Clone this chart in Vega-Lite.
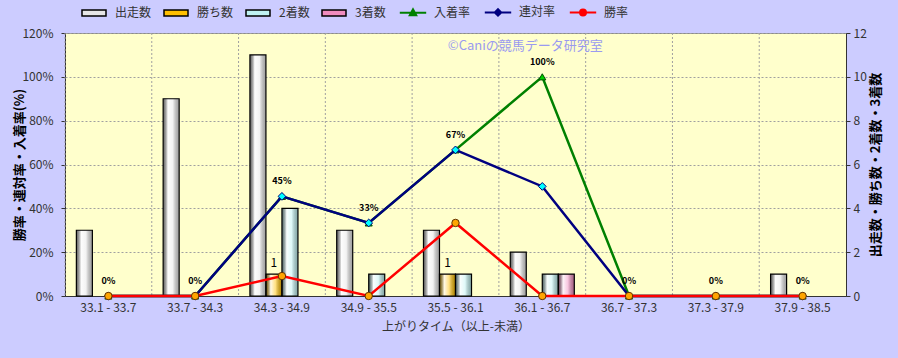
{
  "$schema": "https://vega.github.io/schema/vega-lite/v6.json",
  "width": 781,
  "height": 263,
  "autosize": {"type": "none"},
  "padding": {"left": 65, "top": 33, "right": 52, "bottom": 62},
  "background": "#ccccff",
  "config": {
    "view": {"fill": "#ffffcc", "stroke": "#8a8a8a", "strokeWidth": 1},
    "font": "Noto Sans CJK JP",
    "axis": {"labelFont": "Noto Sans CJK JP", "labelFontSize": 12, "labelColor": "#333333", "titleFont": "Noto Sans CJK JP", "titleColor": "#000000", "domainColor": "#333333", "tickColor": "#333333"},
    "legend": {"labelFont": "Noto Sans CJK JP", "labelFontSize": 12, "labelColor": "#333333"}
  },
  "datasets": {
    "counts": [
      {"区間": "33.1 - 33.7", "系列": "出走数", "値": 3},
      {"区間": "33.1 - 33.7", "系列": "勝ち数", "値": 0},
      {"区間": "33.1 - 33.7", "系列": "2着数", "値": 0},
      {"区間": "33.1 - 33.7", "系列": "3着数", "値": 0},
      {"区間": "33.7 - 34.3", "系列": "出走数", "値": 9},
      {"区間": "33.7 - 34.3", "系列": "勝ち数", "値": 0},
      {"区間": "33.7 - 34.3", "系列": "2着数", "値": 0},
      {"区間": "33.7 - 34.3", "系列": "3着数", "値": 0},
      {"区間": "34.3 - 34.9", "系列": "出走数", "値": 11},
      {"区間": "34.3 - 34.9", "系列": "勝ち数", "値": 1},
      {"区間": "34.3 - 34.9", "系列": "2着数", "値": 4},
      {"区間": "34.3 - 34.9", "系列": "3着数", "値": 0},
      {"区間": "34.9 - 35.5", "系列": "出走数", "値": 3},
      {"区間": "34.9 - 35.5", "系列": "勝ち数", "値": 0},
      {"区間": "34.9 - 35.5", "系列": "2着数", "値": 1},
      {"区間": "34.9 - 35.5", "系列": "3着数", "値": 0},
      {"区間": "35.5 - 36.1", "系列": "出走数", "値": 3},
      {"区間": "35.5 - 36.1", "系列": "勝ち数", "値": 1},
      {"区間": "35.5 - 36.1", "系列": "2着数", "値": 1},
      {"区間": "35.5 - 36.1", "系列": "3着数", "値": 0},
      {"区間": "36.1 - 36.7", "系列": "出走数", "値": 2},
      {"区間": "36.1 - 36.7", "系列": "勝ち数", "値": 0},
      {"区間": "36.1 - 36.7", "系列": "2着数", "値": 1},
      {"区間": "36.1 - 36.7", "系列": "3着数", "値": 1},
      {"区間": "36.7 - 37.3", "系列": "出走数", "値": 0},
      {"区間": "36.7 - 37.3", "系列": "勝ち数", "値": 0},
      {"区間": "36.7 - 37.3", "系列": "2着数", "値": 0},
      {"区間": "36.7 - 37.3", "系列": "3着数", "値": 0},
      {"区間": "37.3 - 37.9", "系列": "出走数", "値": 0},
      {"区間": "37.3 - 37.9", "系列": "勝ち数", "値": 0},
      {"区間": "37.3 - 37.9", "系列": "2着数", "値": 0},
      {"区間": "37.3 - 37.9", "系列": "3着数", "値": 0},
      {"区間": "37.9 - 38.5", "系列": "出走数", "値": 1},
      {"区間": "37.9 - 38.5", "系列": "勝ち数", "値": 0},
      {"区間": "37.9 - 38.5", "系列": "2着数", "値": 0},
      {"区間": "37.9 - 38.5", "系列": "3着数", "値": 0}
    ],
    "rates": [
      {"区間": "33.1 - 33.7", "系列": "入着率", "値": 0},
      {"区間": "33.7 - 34.3", "系列": "入着率", "値": 0},
      {"区間": "34.3 - 34.9", "系列": "入着率", "値": 0.4545},
      {"区間": "34.9 - 35.5", "系列": "入着率", "値": 0.3333},
      {"区間": "35.5 - 36.1", "系列": "入着率", "値": 0.6667},
      {"区間": "36.1 - 36.7", "系列": "入着率", "値": 1.0},
      {"区間": "36.7 - 37.3", "系列": "入着率", "値": 0},
      {"区間": "37.3 - 37.9", "系列": "入着率", "値": 0},
      {"区間": "37.9 - 38.5", "系列": "入着率", "値": 0},
      {"区間": "33.1 - 33.7", "系列": "連対率", "値": 0},
      {"区間": "33.7 - 34.3", "系列": "連対率", "値": 0},
      {"区間": "34.3 - 34.9", "系列": "連対率", "値": 0.4545},
      {"区間": "34.9 - 35.5", "系列": "連対率", "値": 0.3333},
      {"区間": "35.5 - 36.1", "系列": "連対率", "値": 0.6667},
      {"区間": "36.1 - 36.7", "系列": "連対率", "値": 0.5},
      {"区間": "36.7 - 37.3", "系列": "連対率", "値": 0},
      {"区間": "37.3 - 37.9", "系列": "連対率", "値": 0},
      {"区間": "37.9 - 38.5", "系列": "連対率", "値": 0},
      {"区間": "33.1 - 33.7", "系列": "勝率", "値": 0},
      {"区間": "33.7 - 34.3", "系列": "勝率", "値": 0},
      {"区間": "34.3 - 34.9", "系列": "勝率", "値": 0.0909},
      {"区間": "34.9 - 35.5", "系列": "勝率", "値": 0},
      {"区間": "35.5 - 36.1", "系列": "勝率", "値": 0.3333},
      {"区間": "36.1 - 36.7", "系列": "勝率", "値": 0},
      {"区間": "36.7 - 37.3", "系列": "勝率", "値": 0},
      {"区間": "37.3 - 37.9", "系列": "勝率", "値": 0},
      {"区間": "37.9 - 38.5", "系列": "勝率", "値": 0}
    ]
  },
  "layer": [
    {
      "data": {"name": "counts"},
      "layer": [
        {
          "transform": [{"filter": "datum['系列'] === '出走数'"}],
          "mark": {"type": "rule", "stroke": "#a0a0a0", "strokeDash": [2, 2], "strokeWidth": 1},
          "encoding": {
            "x": {"field": "区間", "type": "nominal", "bandPosition": 0,
              "scale": {"domain": ["33.1 - 33.7","33.7 - 34.3","34.3 - 34.9","34.9 - 35.5","35.5 - 36.1","36.1 - 36.7","36.7 - 37.3","37.3 - 37.9","37.9 - 38.5"], "paddingInner": 0, "paddingOuter": 0},
              "axis": {"title": "上がりタイム（以上-未満）", "ticks": false, "labelAngle": 0, "labelPadding": 6, "titlePadding": 8, "titleFontSize": 12, "titleFontWeight": "normal", "titleColor": "#333333", "grid": false}}
          }
        },
        {
          "transform": [{"filter": "datum['値'] > 0"}],
          "mark": {"type": "bar"},
          "encoding": {
            "x": {"field": "区間", "type": "nominal",
              "scale": {"domain": ["33.1 - 33.7","33.7 - 34.3","34.3 - 34.9","34.9 - 35.5","35.5 - 36.1","36.1 - 36.7","36.7 - 37.3","37.3 - 37.9","37.9 - 38.5"], "paddingInner": 0, "paddingOuter": 0},
              "axis": {"title": "上がりタイム（以上-未満）", "ticks": false, "labelAngle": 0, "labelPadding": 6, "titlePadding": 8, "titleFontSize": 12, "titleFontWeight": "normal", "titleColor": "#333333", "grid": false}},
            "xOffset": {"field": "系列", "type": "nominal", "scale": {"domain": ["出走数", "勝ち数", "2着数", "3着数"], "paddingInner": 0, "paddingOuter": 0.71}},
            "y": {"field": "値", "type": "quantitative",
              "scale": {"domain": [0, 12], "nice": false},
              "axis": {"orient": "right", "values": [0, 2, 4, 6, 8, 10, 12], "grid": false, "tickSize": 4, "labelPadding": 3, "title": "出走数・勝ち数・2着数・3着数", "titleAngle": 270, "titleFontSize": 13, "titleFontWeight": "bold", "titlePadding": 16}},
            "color": {"field": "系列", "type": "nominal",
              "scale": {"domain": ["出走数", "勝ち数", "2着数", "3着数", "入着率", "連対率", "勝率"], "range": ["#e6e6e6", "#ffc000", "#bff2f2", "#f08cbe", "#008000", "#000080", "#ff0000"]},
              "legend": {
                "orient": "none", "legendX": 23, "legendY": -27, "direction": "horizontal", "columns": 7, "title": null,
                "symbolSize": 576, "symbolType": "square", "labelOffset": 15, "columnPadding": 9,
                "encode": {"symbols": {"update": {
                  "shape": {"signal": "datum.value === '入着率' ? 'M-1.1,0H1.1M-0.27,0.22L0,-0.27L0.27,0.22Z' : datum.value === '連対率' ? 'M-1.1,0H1.1M0,-0.27L0.27,0L0,0.27L-0.27,0Z' : datum.value === '勝率' ? 'M-1.1,0H1.1M-0.25,0A0.25,0.25,0,1,0,0.25,0A0.25,0.25,0,1,0,-0.25,0Z' : 'M-1,-0.25H1V0.25H-1Z'"},
                  "fill": {"signal": "datum.value === '入着率' ? '#00d000' : datum.value === '連対率' ? '#00ffff' : datum.value === '勝率' ? '#ffa500' : datum.value === '出走数' ? '#e6e6e6' : datum.value === '勝ち数' ? '#ffc000' : datum.value === '2着数' ? '#bff2f2' : '#f08cbe'"},
                  "stroke": {"signal": "datum.value === '入着率' ? '#008000' : datum.value === '連対率' ? '#000080' : datum.value === '勝率' ? '#ff0000' : '#000000'"},
                  "strokeWidth": {"signal": "indexof(['入着率','連対率','勝率'], datum.value) >= 0 ? 2 : 1.5"},
                  "opacity": {"value": 1}
                }}}
              }}
          }
        },
        {
          "transform": [{"filter": "datum['値'] > 0"}],
          "mark": {"type": "bar", "stroke": "#000000", "strokeWidth": 1.2,
            "fill": {"gradient": "linear", "x1": 0, "y1": 0, "x2": 1, "y2": 0,
              "stops": [{"offset": 0, "color": "rgba(0,0,0,0.55)"}, {"offset": 0.3, "color": "rgba(255,255,255,0.9)"}, {"offset": 0.6, "color": "rgba(255,255,255,0.5)"}, {"offset": 1, "color": "rgba(0,0,0,0.3)"}]}},
          "encoding": {
            "x": {"field": "区間", "type": "nominal",
              "scale": {"domain": ["33.1 - 33.7","33.7 - 34.3","34.3 - 34.9","34.9 - 35.5","35.5 - 36.1","36.1 - 36.7","36.7 - 37.3","37.3 - 37.9","37.9 - 38.5"], "paddingInner": 0, "paddingOuter": 0},
              "axis": {"title": "上がりタイム（以上-未満）", "ticks": false, "labelAngle": 0, "labelPadding": 6, "titlePadding": 8, "titleFontSize": 12, "titleFontWeight": "normal", "titleColor": "#333333", "grid": false}},
            "xOffset": {"field": "系列", "type": "nominal", "scale": {"domain": ["出走数", "勝ち数", "2着数", "3着数"], "paddingInner": 0, "paddingOuter": 0.71}},
            "y": {"field": "値", "type": "quantitative"}
          }
        },
        {
          "transform": [{"filter": "datum['系列'] === '勝ち数' && datum['値'] > 0"}],
          "mark": {"type": "text", "baseline": "bottom", "dy": -4, "fontSize": 12, "color": "#000000"},
          "encoding": {
            "x": {"field": "区間", "type": "nominal",
              "scale": {"domain": ["33.1 - 33.7","33.7 - 34.3","34.3 - 34.9","34.9 - 35.5","35.5 - 36.1","36.1 - 36.7","36.7 - 37.3","37.3 - 37.9","37.9 - 38.5"], "paddingInner": 0, "paddingOuter": 0},
              "axis": {"title": "上がりタイム（以上-未満）", "ticks": false, "labelAngle": 0, "labelPadding": 6, "titlePadding": 8, "titleFontSize": 12, "titleFontWeight": "normal", "titleColor": "#333333", "grid": false}},
            "xOffset": {"field": "系列", "type": "nominal", "scale": {"domain": ["出走数", "勝ち数", "2着数", "3着数"], "paddingInner": 0, "paddingOuter": 0.71}},
            "y": {"field": "値", "type": "quantitative"},
            "text": {"field": "値", "type": "quantitative"}
          }
        }
      ]
    },
    {
      "data": {"name": "rates"},
      "encoding": {
        "x": {"field": "区間", "type": "nominal",
          "scale": {"domain": ["33.1 - 33.7","33.7 - 34.3","34.3 - 34.9","34.9 - 35.5","35.5 - 36.1","36.1 - 36.7","36.7 - 37.3","37.3 - 37.9","37.9 - 38.5"], "paddingInner": 0, "paddingOuter": 0},
          "axis": {"title": "上がりタイム（以上-未満）", "ticks": false, "labelAngle": 0, "labelPadding": 6, "titlePadding": 8, "titleFontSize": 12, "titleFontWeight": "normal", "titleColor": "#333333", "grid": false}},
        "y": {"field": "値", "type": "quantitative",
          "scale": {"domain": [0, 1.2], "nice": false},
          "axis": {"orient": "left", "format": ".0%", "values": [0, 0.2, 0.4, 0.6, 0.8, 1.0, 1.2], "grid": true, "gridColor": "#a0a0a0", "gridDash": [2, 2], "tickSize": 4, "labelPadding": 8, "title": "勝率・連対率・入着率(%)", "titleFontSize": 13, "titleFontWeight": "bold", "titlePadding": -5}}
      },
      "layer": [
        {"transform": [{"filter": "datum['系列'] === '入着率'"}], "mark": {"type": "line", "stroke": "#008000", "strokeWidth": 2.5}},
        {"transform": [{"filter": "datum['系列'] === '入着率'"}], "mark": {"type": "point", "shape": "triangle-up", "filled": true, "fill": "#00d000", "stroke": "#005000", "strokeWidth": 1, "size": 50, "opacity": 1}},
        {"transform": [{"filter": "datum['系列'] === '連対率'"}], "mark": {"type": "line", "stroke": "#000080", "strokeWidth": 2.5}},
        {"transform": [{"filter": "datum['系列'] === '連対率'"}], "mark": {"type": "point", "shape": "diamond", "filled": true, "fill": "#00ffff", "stroke": "#000080", "strokeWidth": 1, "size": 60, "opacity": 1}},
        {"transform": [{"filter": "datum['系列'] === '勝率'"}], "mark": {"type": "line", "stroke": "#ff0000", "strokeWidth": 2.5}},
        {"transform": [{"filter": "datum['系列'] === '勝率'"}], "mark": {"type": "point", "shape": "circle", "filled": true, "fill": "#ffa500", "stroke": "#603000", "strokeWidth": 1, "size": 55, "opacity": 1}},
        {"transform": [{"filter": "datum['系列'] === '入着率'"}],
          "mark": {"type": "text", "fontFamily": "DejaVu Sans", "fontWeight": "bold", "fontSize": 9, "dy": -15, "baseline": "middle", "color": "#000000"},
          "encoding": {"text": {"field": "値", "type": "quantitative", "format": ".0%"}}},
        {"data": {"values": [{"区間": "36.1 - 36.7", "値": 1.14, "表示": "©Caniの競馬データ研究室"}]},
          "mark": {"type": "text", "fontSize": 13, "color": "#9a9af0", "dx": -17, "align": "center", "baseline": "middle"},
          "encoding": {"text": {"field": "表示", "type": "nominal"}}}
      ]
    }
  ],
  "resolve": {"scale": {"y": "independent"}}
}
